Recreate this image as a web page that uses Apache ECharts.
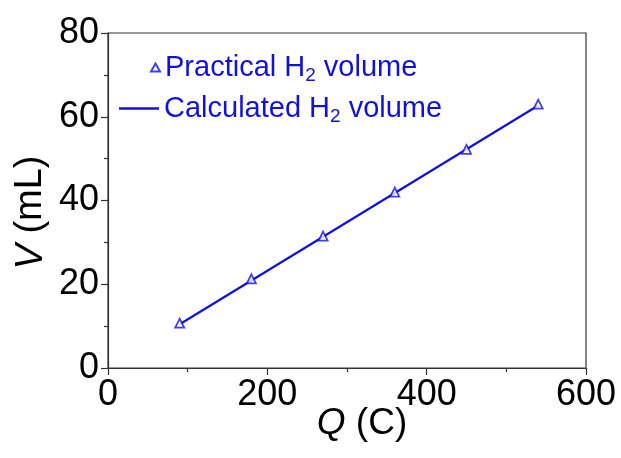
<!DOCTYPE html>
<html>
<head>
<meta charset="utf-8">
<style>
  html, body { margin: 0; padding: 0; background: #ffffff; }
  #chart { width: 621px; height: 458px; }
</style>
<script src="https://cdn.jsdelivr.net/npm/echarts@6/dist/echarts.min.js"></script>
</head>
<body>
<div id="chart"></div>
<script>
// Charge passed (C)
const charge = [90, 180, 270, 360, 450, 540];
// Measured hydrogen volume (mL)
const practicalVolume = [10.7, 21.3, 31.5, 42.0, 52.2, 63.0];
// Theoretical hydrogen volume (mL)
const calculatedVolume = [10.45, 20.89, 31.34, 41.79, 52.23, 62.68];

const xTicks = [0, 200, 400, 600];
const yTicks = [0, 20, 40, 60, 80];

const BLUE = '#1111dd';
const AXIS = '#333333';
const FONT = '"Liberation Sans", Arial, sans-serif';

const chart = echarts.init(document.getElementById('chart'), null, { renderer: 'canvas' });

const pairs = (xs, ys) => xs.map((x, i) => [x, ys[i]]);

const legendRich = {
  t: { fontFamily: FONT, fontSize: 29, color: BLUE },
  s: { fontFamily: FONT, fontSize: 19, color: BLUE, padding: [17, 0, 0, 0] }
};

function axisCommon(ticks, labelMargin) {
  return {
    nameMoveOverlap: false,
    axisLine: { show: true, lineStyle: { color: AXIS, width: 1.2 } },
    axisTick: { show: true, length: 7, inside: false, lineStyle: { color: AXIS, width: 1.2 } },
    minorTick: { show: true, splitNumber: 2, length: 4, lineStyle: { color: AXIS, width: 1.2 } },
    splitLine: { show: false },
    axisLabel: {
      margin: labelMargin, fontFamily: FONT, fontSize: 36, color: '#000',
      formatter: v => ticks.includes(v) ? String(v) : ''
    }
  };
}

chart.setOption({
  animation: false,
  backgroundColor: '#ffffff',
  grid: {
    left: 108, top: 33, width: 478, height: 335,
    show: true, borderColor: AXIS, borderWidth: 1.2, backgroundColor: 'transparent'
  },
  legend: [
    {
      left: 145, top: 48,
      itemWidth: 9, itemHeight: 8,
      data: [{ name: 'Practical', icon: 'triangle' }],
      formatter: () => '{t|Practical H}{s|2}{t| volume}',
      textStyle: { rich: legendRich }
    },
    {
      left: 114, top: 89,
      itemWidth: 40, itemHeight: 2.5,
      data: [{ name: 'Calculated', icon: 'rect' }],
      formatter: () => '{t|Calculated H}{s|2}{t| volume}',
      textStyle: { rich: legendRich }
    }
  ],
  xAxis: Object.assign({
    type: 'value',
    min: 0, max: 600, interval: 200,
    name: '{i|Q} (C)',
    nameLocation: 'middle',
    nameGap: 37,
    nameTextStyle: {
      fontFamily: FONT, fontSize: 37, color: '#000', padding: [0, 0, 0, 30],
      rich: { i: { fontFamily: FONT, fontSize: 37, fontStyle: 'italic', color: '#000' } }
    }
  }, axisCommon(xTicks, 9)),
  yAxis: Object.assign({
    type: 'value',
    min: 0, max: 80, interval: 20,
    name: '{i|V} (mL)',
    nameLocation: 'middle',
    nameGap: 58,
    nameRotate: 90,
    nameTextStyle: {
      fontFamily: FONT, fontSize: 38, color: '#000', padding: [0, 24, 0, 0],
      rich: { i: { fontFamily: FONT, fontSize: 38, fontStyle: 'italic', color: '#000' } }
    }
  }, axisCommon(yTicks, 9)),
  series: [
    {
      name: 'Calculated',
      type: 'line',
      data: pairs(charge, calculatedVolume),
      symbol: 'none',
      lineStyle: { color: BLUE, width: 2.2 },
      itemStyle: { color: BLUE },
      z: 2
    },
    {
      name: 'Practical',
      type: 'scatter',
      data: pairs(charge, practicalVolume),
      symbol: 'triangle',
      symbolSize: 9,
      itemStyle: { color: '#ffffff', borderColor: BLUE, borderWidth: 1.8 },
      z: 3
    }
  ]
});
</script>
</body>
</html>
